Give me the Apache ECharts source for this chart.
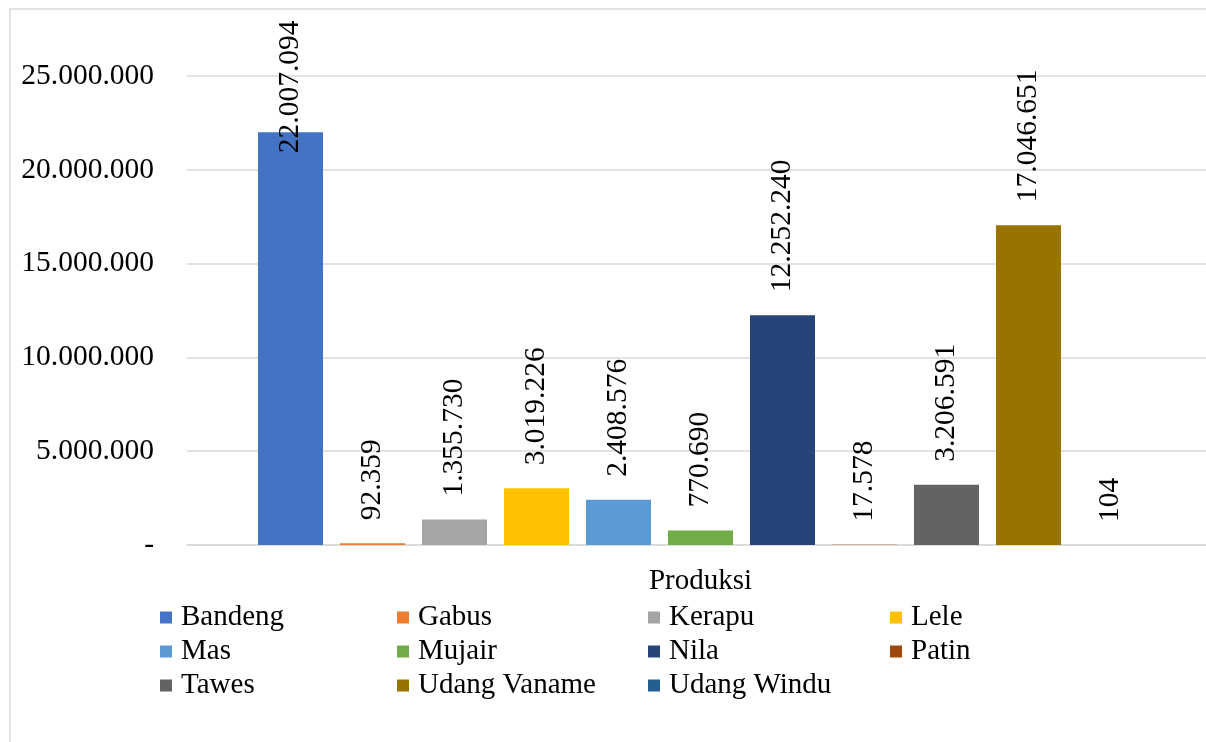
<!DOCTYPE html>
<html><head><meta charset="utf-8">
<script src="https://cdn.jsdelivr.net/npm/echarts@6/dist/echarts.min.js"></script>
<style>html,body{margin:0;padding:0;background:#fff;overflow:hidden}#c{width:1214px;height:742px}</style>
</head><body><div id="c"></div>
<script>
const category = ['Produksi'];
const seriesNames = ['Bandeng','Gabus','Kerapu','Lele','Mas','Mujair','Nila','Patin','Tawes','Udang Vaname','Udang Windu'];
const seriesValues = [22007094, 92359, 1355730, 3019226, 2408576, 770690, 12252240, 17578, 3206591, 17046651, 104];
const seriesColors = ['#4472C4','#ED7D31','#A5A5A5','#FFC000','#5B9BD5','#70AD47','#264478','#9E480E','#636363','#997300','#255E91'];
const yTicks = [0, 5000000, 10000000, 15000000, 20000000, 25000000];

const FONT = '"Liberation Serif", "DejaVu Serif", serif';
function fmt(v){ return String(Math.round(v)).replace(/\B(?=(\d{3})+(?!\d))/g,'.'); }

const series = seriesNames.map((n,i)=>({
  name:n, type:'bar', barWidth:65, barGap:'26.15%',
  itemStyle:{color:seriesColors[i]},
  data:[{value:seriesValues[i], label: i===0 ? {distance:-21} : {}}],
  label:{show:true, position:'top', rotate:90, align:'left', verticalAlign:'middle', distance:23,
    fontFamily:FONT, fontSize:29.5, color:'#000', formatter:p=>fmt(p.value)}
}));

const cols = [[0,4,8],[1,5,9],[2,6,10],[3,7]];
const colLeft = [160,397,648,890];
const legends = cols.map((c,k)=>({
  orient:'vertical', left:colLeft[k], top:603, itemWidth:12, itemHeight:12, itemGap:5,
  icon:'rect', selectedMode:false, padding:0,
  data:c.map(i=>seriesNames[i]),
  textStyle:{fontFamily:FONT, fontSize:29, color:'#000', padding:[0,0,0,4]}
}));

const chart = echarts.init(document.getElementById('c'));
chart.setOption({
  animation:false,
  backgroundColor:'#fff',
  graphic:[{type:'rect', shape:{x:10,y:9,width:1400,height:900}, style:{fill:'none', stroke:'#d9d9d9', lineWidth:1.5}, silent:true}],
  grid:{left:187, right:0, top:76, bottom:197, containLabel:false},
  xAxis:{type:'category', data:category,
    axisLine:{show:true, lineStyle:{color:'#d9d9d9', width:1.5}}, axisTick:{show:false},
    axisLabel:{fontFamily:FONT, fontSize:29, color:'#000', margin:22}},
  yAxis:{type:'value', min:0, max:25000000, interval:5000000,
    axisLine:{show:false}, axisTick:{show:false},
    splitLine:{lineStyle:{color:'#d9d9d9', width:1.5}},
    axisLabel:{fontFamily:FONT, fontSize:29.5, color:'#000', margin:33,
      customValues: yTicks,
      formatter:v=> v===0 ? '-' : fmt(v)}},
  legend:legends,
  series:series
});
</script></body></html>
